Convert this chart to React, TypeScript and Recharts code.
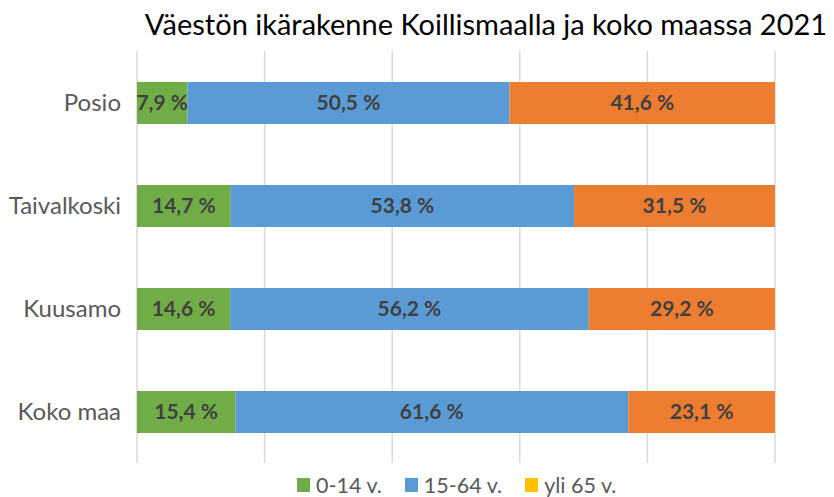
import React from "react";
import { BarChart, Bar, XAxis, YAxis, CartesianGrid, LabelList } from "recharts";

const categories = ["Posio", "Taivalkoski", "Kuusamo", "Koko maa"];
const age0to14 = [7.9, 14.7, 14.6, 15.4];
const age15to64 = [50.5, 53.8, 56.2, 61.6];
const age65plus = [41.6, 31.5, 29.2, 23.1];
const seriesNames = ["0-14 v.", "15-64 v.", "yli 65 v."];
const barColors = ["#70AD47", "#5B9BD5", "#ED7D31"];
const legendColors = ["#70AD47", "#5B9BD5", "#FFC000"];
const xTicks = [0, 20, 40, 60, 80, 100];
const title = "Väestön ikärakenne Koillismaalla ja koko maassa 2021";

const data = categories.map((name, i) => ({
  name,
  a: age0to14[i],
  b: age15to64[i],
  c: age65plus[i],
}));

const FONT = "Lato, 'Open Sans', sans-serif";
const fmt = (v: any) => `${String(v).replace(".", ",")} %`;
const keys = ["a", "b", "c"];

export default function App() {
  return (
    <div style={{ position: "absolute", left: 0, top: 0, width: 834, height: 497, background: "#fff", fontFamily: FONT }}>
      <div
        style={{
          position: "absolute",
          top: 6,
          left: 0,
          width: 834,
          paddingLeft: 138,
          boxSizing: "border-box",
          textAlign: "center",
          fontSize: 29,
          color: "#000",
          whiteSpace: "nowrap",
        }}
      >
        {title}
      </div>
      <BarChart
        width={834}
        height={497}
        data={data}
        layout="vertical"
        margin={{ top: 51, right: 59, bottom: 34, left: 0 }}
        barSize={42}
      >
        <CartesianGrid horizontal={false} vertical={true} stroke="#D9D9D9" strokeWidth={1.5} />
        <XAxis type="number" domain={[0, 100]} ticks={xTicks} allowDataOverflow hide />
        <YAxis
          type="category"
          dataKey="name"
          width={137}
          axisLine={false}
          tickLine={false}
          tickMargin={10}
          tick={{ fill: "#595959", fontSize: 24, fontFamily: FONT }}
        />
        {keys.map((k, i) => (
          <Bar key={k} dataKey={k} stackId="s" fill={barColors[i]} name={seriesNames[i]} isAnimationActive={false}>
            <LabelList
              dataKey={k}
              position="center"
              formatter={fmt}
              style={{ fill: "#404040", fontSize: 21, fontWeight: 700, fontFamily: FONT }}
            />
          </Bar>
        ))}
      </BarChart>
      <div
        style={{
          position: "absolute",
          top: 474,
          left: 297,
          height: 22,
          display: "flex",
          alignItems: "center",
          fontSize: 21.5,
          color: "#595959",
          lineHeight: "22px",
          whiteSpace: "nowrap",
        }}
      >
        {seriesNames.map((n, i) => (
          <div key={n} style={{ display: "flex", alignItems: "center", marginRight: i < 2 ? 23 : 0 }}>
            <span style={{ display: "inline-block", width: 13, height: 14, background: legendColors[i], marginRight: 6 }} />
            <span>{n}</span>
          </div>
        ))}
      </div>
    </div>
  );
}
